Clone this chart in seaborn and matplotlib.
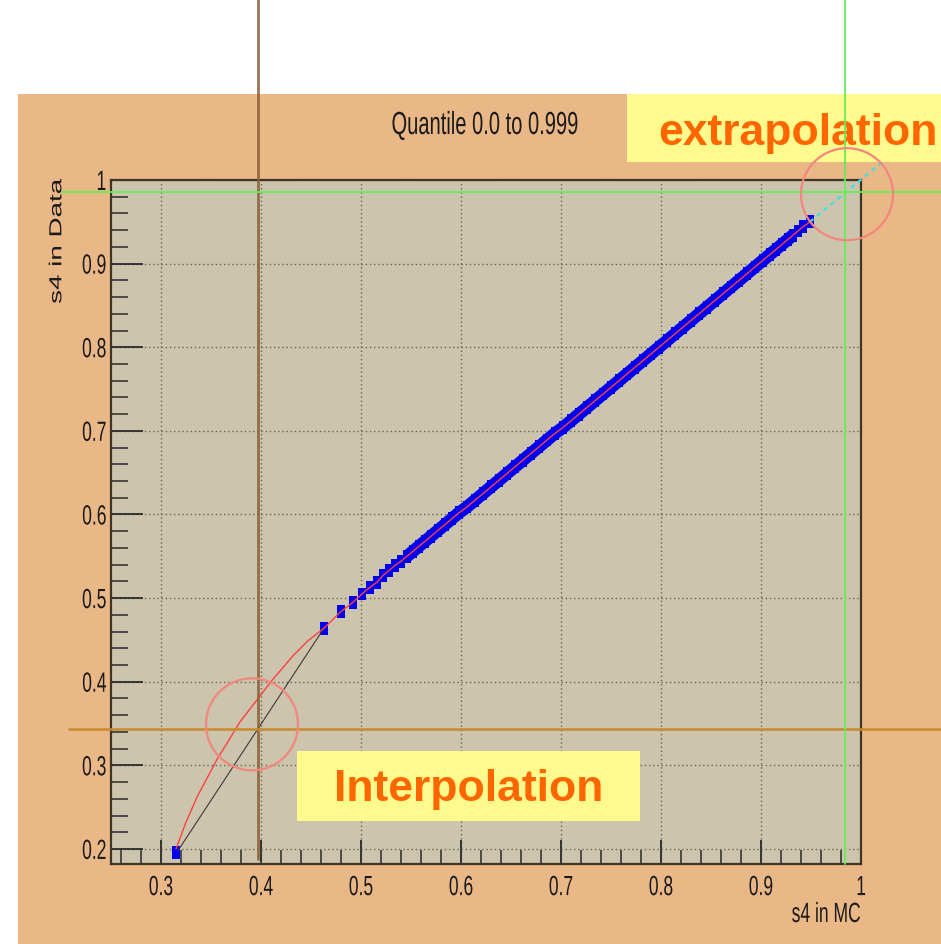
import matplotlib
matplotlib.use("Agg")
import matplotlib.pyplot as plt
import matplotlib.transforms as mtransforms
from matplotlib.lines import Line2D
from matplotlib.patches import Rectangle, Ellipse
from matplotlib.path import Path
from matplotlib.patheffects import AbstractPathEffect
from matplotlib.ticker import MultipleLocator
import seaborn as sns

# --- dane: kwantyle s4 (MC vs Data) ---
mc_q = [0.315, 0.463, 0.480, 0.492, 0.501, 0.509, 0.516, 0.522, 0.528, 0.534,
        0.540, 0.546, 0.552, 0.558, 0.564, 0.570, 0.577, 0.584, 0.591, 0.598,
        0.606, 0.614, 0.622, 0.630, 0.638, 0.646, 0.654, 0.662, 0.670, 0.678,
        0.686, 0.694, 0.702, 0.710, 0.718, 0.726, 0.734, 0.742, 0.750, 0.758,
        0.766, 0.774, 0.782, 0.790, 0.798, 0.806, 0.814, 0.822, 0.830, 0.838,
        0.846, 0.854, 0.862, 0.870, 0.878, 0.886, 0.894, 0.902, 0.909, 0.915,
        0.921, 0.927, 0.932, 0.937, 0.942, 0.949]
data_q = [0.196, 0.464, 0.484, 0.495, 0.505, 0.513, 0.519, 0.527, 0.533, 0.539,
          0.544, 0.550, 0.556, 0.562, 0.568, 0.574, 0.581, 0.588, 0.595, 0.602,
          0.609, 0.617, 0.625, 0.633, 0.641, 0.649, 0.657, 0.665, 0.673, 0.681,
          0.689, 0.697, 0.704, 0.712, 0.720, 0.728, 0.736, 0.744, 0.752, 0.760,
          0.768, 0.776, 0.784, 0.792, 0.800, 0.808, 0.816, 0.824, 0.832, 0.840,
          0.848, 0.856, 0.864, 0.872, 0.880, 0.888, 0.896, 0.904, 0.911, 0.917,
          0.923, 0.929, 0.934, 0.939, 0.944, 0.950]
DENSE_FROM = 11   # od tego punktu kwantyle zlewają się w pas
DENSE_TO = 63

# interpolacja (spline) w obszarze rzadkich punktów
spline_x = [0.315, 0.325, 0.336, 0.356, 0.379, 0.399, 0.412, 0.432, 0.447, 0.463]
spline_y = [0.200, 0.232, 0.262, 0.307, 0.352, 0.383, 0.403, 0.431, 0.449, 0.464]

# interpolacja liniowa
linear_x = [0.317, 0.463]
linear_y = [0.198, 0.464]

# ekstrapolacja
extra_x = [0.949, 1.036]
extra_y = [0.950, 1.036]

# linie pomocnicze i okręgi
brown_x = 0.397
orange_y = 0.343
green_x = 0.984
green_y = 0.986
interp_circle = (0.391, 0.349)
extra_circle = (0.986, 0.983)

x_ticks = [0.3, 0.4, 0.5, 0.6, 0.7, 0.8, 0.9, 1.0]
x_ticklabels = ["0.3", "0.4", "0.5", "0.6", "0.7", "0.8", "0.9", "1"]
y_ticks = [0.2, 0.3, 0.4, 0.5, 0.6, 0.7, 0.8, 0.9, 1.0]
y_ticklabels = ["0.2", "0.3", "0.4", "0.5", "0.6", "0.7", "0.8", "0.9", "1"]

BG_ORANGE  = "#EAB886"
FRAME_BG   = "#CCC4AC"
YELLOW     = "#FFFA8E"
TXT_ORANGE = "#FF6600"
BLUE       = "#0000F0"
TXT        = "#1a1a1a"
SQUEEZE    = 0.63     # obraz z ROOT był ściśnięty w poziomie

W, H = 941, 945


def fx(px):
    return px / W


def fy(py):
    return 1 - py / H


class _Squeeze(AbstractPathEffect):
    """Ściska tekst w poziomie (jak w oryginalnym zrzucie)."""

    def __init__(self, sx=SQUEEZE, anchor="center"):
        super().__init__()
        self.sx = sx
        self.anchor = anchor

    def draw_path(self, renderer, gc, tpath, affine, rgbFace=None):
        ext = affine.transform_path(tpath).get_extents()
        if self.anchor == "right":
            x0 = ext.x1
        elif self.anchor == "left":
            x0 = ext.x0
        else:
            x0 = (ext.x0 + ext.x1) / 2
        sq = mtransforms.Affine2D().translate(-x0, 0).scale(self.sx, 1).translate(x0, 0)
        renderer.draw_path(gc, tpath, affine + sq, rgbFace)


sns.set_theme(style="white")
plt.rcParams["font.family"] = ["Liberation Sans", "DejaVu Sans"]

fig = plt.figure(figsize=(W / 100, H / 100), dpi=100, facecolor="white")
fig.add_artist(Rectangle((fx(18), 0), 1 - fx(18), fy(95), transform=fig.transFigure,
                         facecolor=BG_ORANGE, edgecolor="none", zorder=-10))

ax = fig.add_axes([fx(111), fy(865), fx(861) - fx(111), fy(181) - fy(865)])
ax.set_facecolor(FRAME_BG)

# prostokątny marker (kwadrat ROOT po ściśnięciu obrazu)
rect_marker = Path([(-0.31, -0.5), (0.31, -0.5), (0.31, 0.5), (-0.31, 0.5), (-0.31, -0.5)])

sns.lineplot(x=mc_q[DENSE_FROM:DENSE_TO], y=data_q[DENSE_FROM:DENSE_TO], sort=False,
             estimator=None, ax=ax, color=BLUE, linewidth=9.0, zorder=2)
ax.lines[-1].set_solid_capstyle("butt")
sns.scatterplot(x=mc_q, y=data_q, marker=rect_marker, s=85, color=BLUE,
                edgecolor="none", linewidth=0, ax=ax, zorder=3)
sns.lineplot(x=linear_x, y=linear_y, sort=False, estimator=None, ax=ax,
             color="#3a3a3a", linewidth=0.8, zorder=4)
sns.lineplot(x=spline_x + mc_q[2:], y=spline_y + data_q[2:], sort=False,
             estimator=None, ax=ax, color="#FF4040", linewidth=1.0, zorder=5)
sns.lineplot(x=extra_x, y=extra_y, sort=False, estimator=None, ax=ax,
             color="#40E0E0", linewidth=1.6, linestyle=(0, (2, 2)), zorder=5)
ax.lines[-1].set_clip_on(False)

ax.set_xlim(0.25, 1.0)
ax.set_ylim(0.182, 1.0)
ax.set_xticks(x_ticks)
ax.set_xticklabels(x_ticklabels)
ax.set_yticks(y_ticks)
ax.set_yticklabels(y_ticklabels)
ax.xaxis.set_minor_locator(MultipleLocator(0.02))
ax.yaxis.set_minor_locator(MultipleLocator(0.02))
ax.tick_params(which="both", bottom=True, left=True, top=False, right=False,
               direction="in", color="#2a2a2a")
ax.tick_params(axis="x", which="major", length=17, width=1.3, labelsize=20, pad=8)
ax.tick_params(axis="x", which="minor", length=10, width=1.1)
ax.tick_params(axis="y", which="major", length=23, width=1.3, labelsize=20, pad=3)
ax.tick_params(axis="y", which="minor", length=12, width=1.1)
for lab in ax.get_xticklabels():
    lab.set_color(TXT)
    lab.set_path_effects([_Squeeze(anchor="center")])
for lab in ax.get_yticklabels():
    lab.set_color(TXT)
    lab.set_path_effects([_Squeeze(anchor="right")])

ax.grid(True, which="major", color="#6a6458", linestyle=(0, (1, 2)), linewidth=1.0)
for side in ["left", "bottom", "top", "right"]:
    ax.spines[side].set_color("#3d3528")
    ax.spines[side].set_linewidth(1.6)
ax.set_xlabel("")
ax.set_ylabel("")

# opisy osi i tytuł
fig.text(fx(861), fy(916), "s4 in MC", ha="right", va="center", fontsize=20,
         color=TXT, path_effects=[_Squeeze(anchor="right")])
fig.text(fx(58), fy(180), "s4 in Data", rotation=90, ha="center", va="top",
         fontsize=20, color=TXT, path_effects=[_Squeeze(anchor="center")])
fig.text(fx(485), fy(127), "Quantile 0.0 to 0.999", ha="center", va="center",
         fontsize=23, color=TXT, path_effects=[_Squeeze(anchor="center")])

# żółte ramki z podpisami
fig.add_artist(Rectangle((fx(627), fy(163)), 1 - fx(627), fy(95) - fy(163),
                         transform=fig.transFigure, facecolor=YELLOW,
                         edgecolor="none", zorder=1))
fig.text(fx(798), fy(133), "extrapolation", ha="center", va="center", fontsize=32,
         fontweight="bold", color=TXT_ORANGE, zorder=2)
fig.add_artist(Rectangle((fx(297), fy(822)), fx(640) - fx(297), fy(752) - fy(822),
                         transform=fig.transFigure, facecolor=YELLOW,
                         edgecolor="none", zorder=1))
fig.text(fx(469), fy(790), "Interpolation", ha="center", va="center", fontsize=32,
         fontweight="bold", color=TXT_ORANGE, zorder=2)

# linie pomocnicze (x/y w danych, rozciągnięte na figurę)
tx = mtransforms.blended_transform_factory(ax.transData, fig.transFigure)
ty = mtransforms.blended_transform_factory(fig.transFigure, ax.transData)
fig.add_artist(Line2D([brown_x, brown_x], [fy(860), 1.0], transform=tx,
                      color="#8B5E34", alpha=0.85, linewidth=2.0, zorder=6))
fig.add_artist(Line2D([fx(69), 1.0], [orange_y, orange_y], transform=ty,
                      color="#C98A2E", linewidth=1.8, zorder=6))
fig.add_artist(Line2D([green_x, green_x], [fy(865), 1.0], transform=tx,
                      color="#66EE55", linewidth=1.3, zorder=6))
fig.add_artist(Line2D([fx(62), 1.0], [green_y, green_y], transform=ty,
                      color="#66EE55", linewidth=1.3, zorder=6))

# okręgi
to_fig = ax.transData + fig.transFigure.inverted()
for c in [interp_circle, extra_circle]:
    cx, cy = to_fig.transform(c)
    fig.add_artist(Ellipse((cx, cy), 92 / W, 92 / H, transform=fig.transFigure,
                           facecolor="none", edgecolor="#F2877E", linewidth=1.6,
                           zorder=7))

fig.savefig("out.png", dpi=100, facecolor="white")
